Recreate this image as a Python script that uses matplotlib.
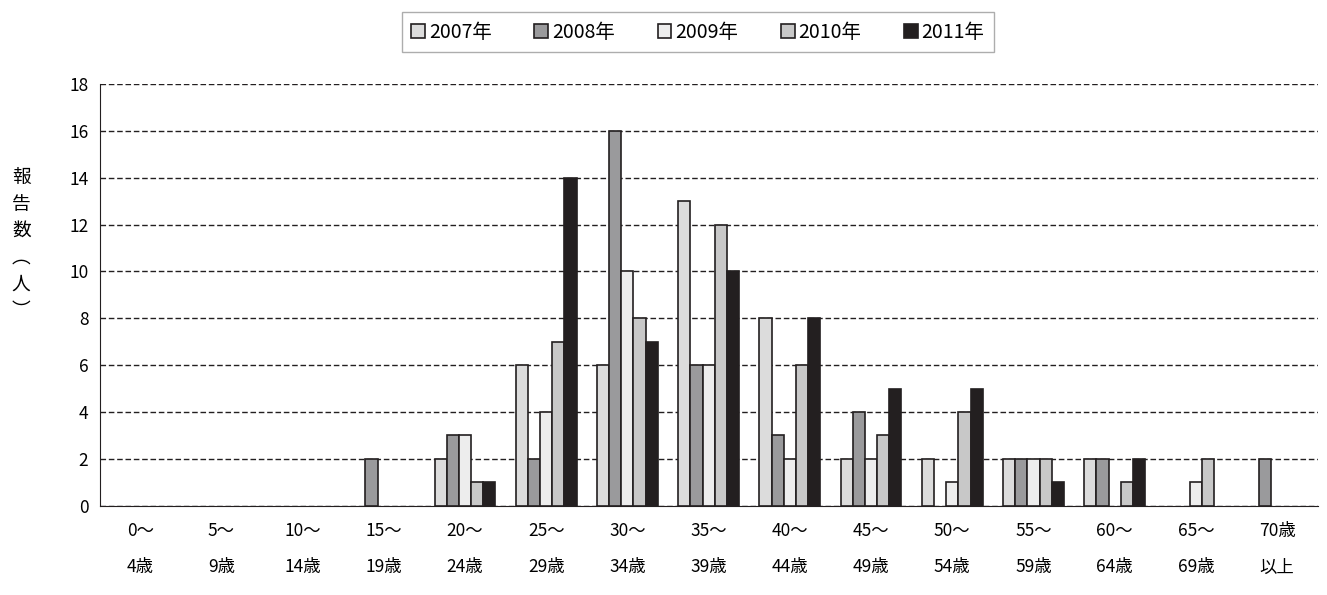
import numpy as np
import matplotlib.pyplot as plt

plt.rcParams['font.family'] = ['Noto Sans CJK JP', 'DejaVu Sans']

# 年齢階級
cats = ["0～\n\n4歳", "5～\n\n9歳", "10～\n\n14歳", "15～\n\n19歳", "20～\n\n24歳",
        "25～\n\n29歳", "30～\n\n34歳", "35～\n\n39歳", "40～\n\n44歳", "45～\n\n49歳",
        "50～\n\n54歳", "55～\n\n59歳", "60～\n\n64歳", "65～\n\n69歳", "70歳\n\n以上"]
years = ["2007年", "2008年", "2009年", "2010年", "2011年"]
v2007 = [0, 0, 0, 0, 2, 6, 6, 13, 8, 2, 2, 2, 2, 0, 0]
v2008 = [0, 0, 0, 2, 3, 2, 16, 6, 3, 4, 0, 2, 2, 0, 2]
v2009 = [0, 0, 0, 0, 3, 4, 10, 6, 2, 2, 1, 2, 0, 1, 0]
v2010 = [0, 0, 0, 0, 1, 7, 8, 12, 6, 3, 4, 2, 1, 2, 0]
v2011 = [0, 0, 0, 0, 1, 14, 7, 10, 8, 5, 5, 1, 2, 0, 0]
series = [v2007, v2008, v2009, v2010, v2011]
colors = ["#dcdcdc", "#9a9a9c", "#ededed", "#c8c8c8", "#231f20"]

fig = plt.figure(figsize=(13.27, 5.95), dpi=100)
ax = fig.add_axes([0.075, 0.150, 0.918, 0.709])

x = np.arange(len(cats))
w = 0.15
for i, (vals, c) in enumerate(zip(series, colors)):
    vals = np.array(vals, dtype=float)
    vals[vals == 0] = np.nan  # 0の棒は描かない
    ax.bar(x + (i - 2) * w, vals, w, color=c, edgecolor="#231f20",
           linewidth=1.2, label=years[i], zorder=3)

ax.set_xlim(-0.5, len(cats) - 0.5)
ax.set_ylim(0, 18)
ax.set_yticks(range(0, 19, 2))
ax.set_xticks(x)
ax.set_xticklabels(cats, fontsize=12.5, linespacing=1.0)
ax.tick_params(axis='y', labelsize=12.5, length=0, pad=8)
ax.tick_params(axis='x', length=0, pad=12)
ax.grid(axis='y', linestyle=(0, (4, 2)), color="#231f20", linewidth=1, zorder=0)
for s in ax.spines.values():
    s.set_color("#231f20")
ax.spines['top'].set_visible(False)
ax.spines['right'].set_visible(False)

fig.text(0.016, 0.59, "報\n告\n数\n︵\n人\n︶", fontsize=13.5, ha='center', va='center',
         linespacing=1.35)

leg = fig.legend(loc='upper center', bbox_to_anchor=(0.526, 0.99), ncol=5,
                 fontsize=14, frameon=True, fancybox=False, handlelength=0.7,
                 handleheight=0.7, handletextpad=0.2, columnspacing=2.2,
                 borderpad=0.5, borderaxespad=0.3)
leg.get_frame().set_edgecolor("#999999")

fig.savefig("out.png", dpi=100)
